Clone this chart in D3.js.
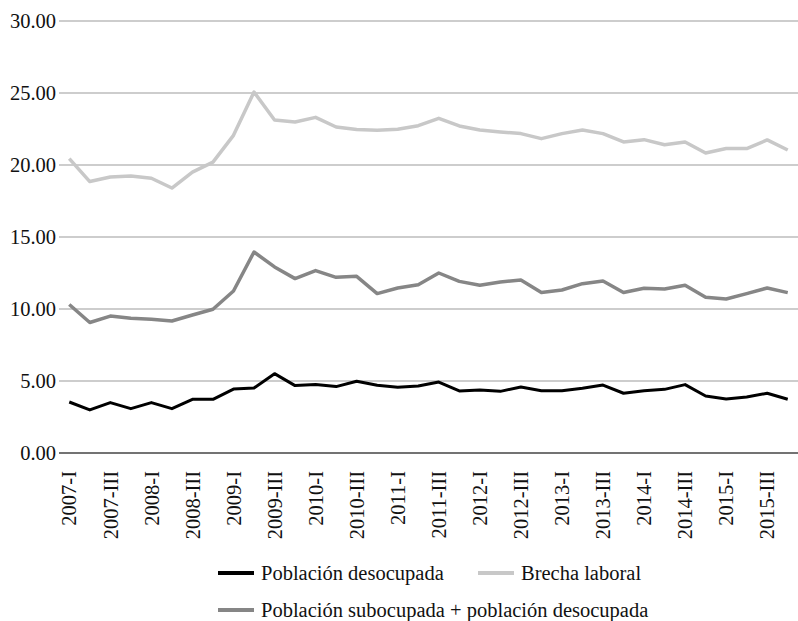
<!DOCTYPE html>
<html><head><meta charset="utf-8">
<script src="https://cdn.jsdelivr.net/npm/d3@7"></script>
<style>body{margin:0;background:#fff}svg{display:block}</style>
</head><body><svg id="c" width="798" height="621"></svg>
<script>
const quarters = [];
const years = [2007,2008,2009,2010,2011,2012,2013,2014,2015];
const romans = ["I","II","III","IV"];
years.forEach(yr => romans.forEach(r => quarters.push(yr + "-" + r)));

const desocupada = [3.54,2.99,3.50,3.08,3.50,3.08,3.73,3.73,4.44,4.51,5.51,4.68,4.75,4.61,4.98,4.70,4.56,4.65,
  4.93,4.31,4.38,4.28,4.58,4.33,4.33,4.49,4.72,4.15,4.33,4.42,4.75,3.96,3.75,3.89,4.15,3.73];
const subocupada = [10.31,9.06,9.51,9.35,9.28,9.17,9.58,9.98,11.25,13.96,12.92,12.11,12.67,12.20,12.27,11.07,11.46,11.69,
  12.50,11.92,11.65,11.88,12.01,11.14,11.32,11.76,11.94,11.14,11.44,11.39,11.65,10.81,10.69,11.07,11.46,11.14];
const brecha = [20.44,18.85,19.17,19.24,19.08,18.40,19.51,20.20,22.06,25.07,23.13,22.99,23.31,22.64,22.46,22.41,22.48,22.73,
  23.24,22.71,22.43,22.29,22.18,21.83,22.18,22.43,22.18,21.60,21.76,21.41,21.60,20.83,21.14,21.14,21.74,21.04];
const yTicks = [0,5,10,15,20,25,30];

const series = [
  {name:"Población desocupada", values:desocupada, color:"#000000", width:3},
  {name:"Brecha laboral", values:brecha, color:"#c8c8c8", width:3.5},
  {name:"Población subocupada + población desocupada", values:subocupada, color:"#868686", width:3.5}
];

(function(){
const svg = d3.select("#c");
const FS = 20.5;
const FF = "Liberation Serif";
const mLeft = 59, mRight = 798, mTop = 21, mBottom = 453;
const x = d3.scaleBand().domain(quarters).range([mLeft, mRight]);
const y = d3.scaleLinear().domain([0,30]).range([mBottom, mTop]);

svg.append("g").selectAll("line").data(yTicks).join("line")
  .attr("x1", mLeft).attr("x2", mRight)
  .attr("y1", d => y(d)).attr("y2", d => y(d))
  .attr("stroke", d => d === 0 ? "#444" : "#bdbdbd").attr("stroke-width", 1.5);

svg.append("g").selectAll("text").data(yTicks).join("text")
  .attr("x", 56).attr("y", d => y(d)).attr("dy", "0.35em")
  .attr("text-anchor", "end").attr("font-size", FS).attr("font-family", FF).attr("fill", "#111")
  .text(d => d3.format(".2f")(d));

const xLabels = quarters.filter((q,i) => i % 2 === 0);
svg.append("g").selectAll("text").data(xLabels).join("text")
  .attr("transform", d => `translate(${x(d) + x.bandwidth()/2},${mBottom + 18}) rotate(-90)`)
  .attr("text-anchor", "end").attr("dy", "0.35em")
  .attr("font-size", FS).attr("font-family", FF).attr("fill", "#111")
  .text(d => d);

const line = d3.line().x((d,i) => x(quarters[i]) + x.bandwidth()/2).y(d => y(d));
[series[1], series[2], series[0]].forEach(s => {
  svg.append("path").datum(s.values).attr("d", line)
    .attr("fill","none").attr("stroke", s.color).attr("stroke-width", s.width)
    .attr("stroke-linejoin","round");
});

const legendPos = [{x:218,y:573},{x:478,y:573},{x:218,y:610}];
series.forEach((s,i) => {
  const p = legendPos[i];
  svg.append("line").attr("x1", p.x).attr("x2", p.x + 36).attr("y1", p.y).attr("y2", p.y)
    .attr("stroke", s.color).attr("stroke-width", 4);
  svg.append("text").attr("x", p.x + 43).attr("y", p.y).attr("dy","0.32em")
    .attr("font-size", FS).attr("font-family", FF).attr("fill", "#111").text(s.name);
});
})();
</script></body></html>
